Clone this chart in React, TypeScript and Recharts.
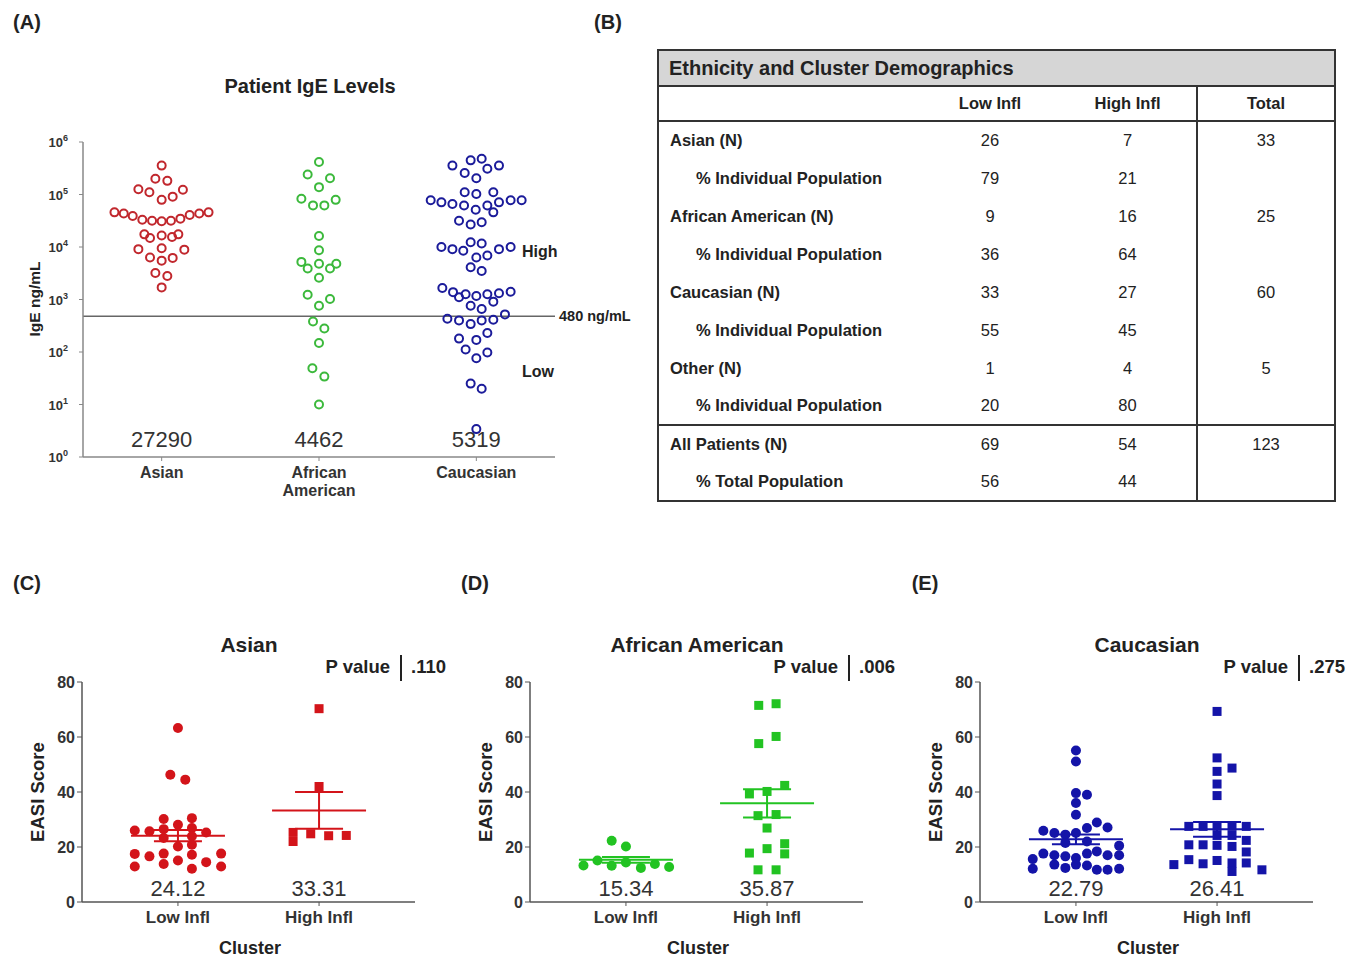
import { ScatterChart, Scatter, XAxis, YAxis, ReferenceLine, ErrorBar } from 'recharts'

const FONT = '"Liberation Sans", Arial, Helvetica, sans-serif'

// ---- Panel A: IgE levels (jitter in category units, value in ng/mL) ----
const groups = ['Asian', 'African American', 'Caucasian']
const igeTicks = [1, 10, 100, 1000, 10000, 100000, 1000000]
const igeCutoff = 480
const igeMedians = [27290, 4462, 5319]

const asianIgE: [number, number][] = [
  [0, 355000],
  [-0.04, 200000], [0.036, 182000],
  [-0.148, 126000], [-0.078, 110000], [0.135, 123000], [0.07, 91000], [0, 79000],
  [-0.3, 45700], [-0.241, 43600], [-0.184, 38900], [-0.123, 33100], [-0.061, 31600], [0, 30900],
  [0.059, 31600], [0.119, 34700], [0.178, 40700], [0.239, 43600], [0.298, 45700],
  [-0.11, 17400], [-0.074, 14800], [0, 16600], [0.066, 15500], [0.106, 17400],
  [-0.148, 9100], [0, 9500], [0.144, 8900],
  [-0.074, 6300], [0, 5500], [0.07, 6200],
  [-0.04, 3200], [0.036, 2800],
  [0, 1700],
]

const africanIgE: [number, number][] = [
  [0, 417000], [-0.072, 240000], [0.07, 204000], [0, 138000],
  [-0.112, 83000], [-0.038, 62000], [0.034, 62000], [0.106, 79000],
  [0, 16200], [0, 8700],
  [-0.112, 5200], [-0.072, 3900], [0, 4800], [0.07, 3900], [0.11, 4800], [0, 2600],
  [-0.072, 1230], [0, 760], [0.07, 1020],
  [-0.038, 380], [0.034, 280], [0, 148],
  [-0.042, 49], [0.034, 34], [0, 10],
]

const caucasianIgE: [number, number][] = [
  [-0.152, 355000], [-0.036, 447000], [0.034, 479000], [-0.074, 257000], [0, 204000], [0.07, 309000], [0.144, 355000],
  [-0.074, 110000], [0, 102000], [0.108, 110000],
  [-0.29, 77600], [-0.222, 70800], [-0.152, 66100], [-0.078, 61700], [-0.004, 51300], [0.07, 61700],
  [0.144, 70800], [0.218, 77600], [0.288, 77600],
  [0.108, 45700],
  [-0.11, 31600], [-0.036, 26900], [0.034, 29500],
  [-0.222, 10000], [-0.152, 9100], [-0.036, 12300], [0.034, 11700], [-0.083, 8500], [0, 6300], [0.07, 6900],
  [0.144, 9100], [0.218, 10000],
  [-0.036, 4100], [0.034, 3500],
  [-0.216, 1660], [-0.148, 1380], [-0.11, 1100], [-0.068, 1260], [0, 1170], [0.07, 1260], [0.108, 910],
  [0.144, 1320], [0.218, 1410],
  [-0.036, 760], [0.034, 660],
  [-0.184, 430], [-0.11, 400], [-0.036, 340], [0.034, 400], [0.108, 410], [0.182, 520],
  [0.07, 230], [-0.11, 180], [-0.068, 112], [0, 170], [0, 76], [0.07, 98],
  [-0.036, 25], [0.034, 20],
  [0, 3.4],
]

// ---- Panel B: table ----
const tableLabels = [
  'Asian (N)', '% Individual Population',
  'African American (N)', '% Individual Population',
  'Caucasian  (N)', '% Individual Population',
  'Other (N)', '% Individual Population',
  'All Patients (N)', '% Total Population',
]
const tableLow = ['26', '79', '9', '36', '33', '55', '1', '20', '69', '56']
const tableHigh = ['7', '21', '16', '64', '27', '45', '4', '80', '54', '44']
const tableTotal = ['33', '', '25', '', '60', '', '5', '', '123', '']

// ---- Panels C-E: EASI score by cluster ----
const clusters = ['Low Infl', 'High Infl']

const asianLow: [number, number][] = [
  [0, 63.3], [-0.054, 46.3], [0.052, 44.5], [-0.101, 30.2], [0.099, 30.5], [0, 28.1],
  [-0.306, 26.0], [-0.202, 25.7], [-0.101, 26.5], [0.099, 26.9], [0.2, 25.3],
  [-0.101, 23.3], [0.099, 23.9], [0, 20.2], [0.099, 20.8],
  [-0.306, 17.5], [-0.202, 16.6], [-0.101, 17.6], [0.099, 17.2], [0.306, 17.6],
  [-0.306, 12.9], [-0.101, 13.8], [0, 15.1], [0.2, 14.5], [0.306, 12.9], [0.099, 12.1],
]
const asianHigh: [number, number][] = [
  [0, 70.3], [0, 42.0], [-0.184, 25.3], [-0.059, 24.8], [0.068, 24.1], [0.193, 24.2], [-0.184, 22.0],
]
const africanLow: [number, number][] = [
  [-0.101, 22.3], [0, 20.2], [-0.202, 15.1], [-0.301, 13.3], [-0.101, 13.2],
  [0, 14.4], [0.106, 12.4], [0.205, 13.8], [0.306, 12.7],
]
const africanHigh: [number, number][] = [
  [-0.059, 71.5], [0.064, 72.1], [-0.059, 57.6], [0.064, 60.2], [0.125, 42.4], [-0.125, 39.3],
  [0, 40.2], [-0.064, 31.4], [0.064, 31.8], [0, 26.9], [-0.125, 17.8], [0, 19.4],
  [0.125, 21.2], [0.125, 17.5], [-0.064, 11.7], [0.064, 11.7],
]
const caucasianLow: [number, number][] = [
  [0, 55.1], [0, 51.1], [0, 39.6], [0.078, 39.0], [0, 36.0], [0, 31.7], [0.148, 28.9], [0.224, 27.1],
  [0.078, 26.9], [-0.231, 25.9], [-0.153, 25.1], [-0.075, 24.5], [0, 25.1], [-0.075, 21.5], [0.078, 22.0],
  [0.306, 20.5], [-0.306, 15.6], [-0.231, 17.6], [-0.153, 17.0], [-0.075, 16.6], [0, 16.0], [0.078, 17.6],
  [0.148, 18.4], [0.224, 17.0], [0.306, 17.0], [-0.306, 12.1], [-0.153, 13.6], [-0.075, 12.4], [0, 13.6],
  [0.078, 13.3], [0.148, 11.7], [0.224, 11.7], [0.306, 12.1],
]
const caucasianHigh: [number, number][] = [
  [0, 69.3], [0, 52.4], [0.106, 48.7], [0, 47.5], [0, 42.9], [0, 38.7],
  [-0.2, 27.5], [-0.099, 27.5], [0, 27.5], [0.106, 27.5], [0.207, 27.5],
  [0, 24.2], [0.106, 24.2], [0.207, 22.4], [-0.2, 20.8], [-0.099, 20.8], [0, 20.6], [0.106, 20.2],
  [0.207, 18.2], [-0.2, 15.4], [-0.099, 13.9], [0, 15.1], [0.106, 14.2], [0.207, 14.2],
  [-0.306, 13.6], [0.106, 11.1], [0.318, 11.7],
]
const asianMeans = [24.12, 33.31]
const asianSem = [2.05, 6.7]
const africanMeans = [15.34, 35.87]
const africanSem = [1.05, 5.1]
const caucasianMeans = [22.79, 26.41]
const caucasianSem = [1.8, 2.7]

const toPts = (pairs: [number, number][], cat: number) => pairs.map(([j, v]) => ({ x: cat + j, y: v }))

function Txt({ x, y, size = 14, bold = true, anchor = 'middle', rotate = 0, children }: any) {
  const tx = anchor === 'middle' ? '-50%' : anchor === 'end' ? '-100%' : '0'
  return (
    <div
      style={{
        position: 'absolute', left: x, top: y, whiteSpace: 'nowrap', fontSize: size,
        fontWeight: bold ? 700 : 400, lineHeight: 1,
        transform: `translate(${tx}, -50%) rotate(${rotate}deg)`,
      }}
    >
      {children}
    </div>
  )
}

const openCircle = (color: string) => (p: any) =>
  <circle cx={p.cx} cy={p.cy} r={4} fill="none" stroke={color} strokeWidth={2} />
const dot = (color: string) => (p: any) => <circle cx={p.cx} cy={p.cy} r={5} fill={color} />
const square = (color: string) => (p: any) => <rect x={p.cx - 4.5} y={p.cy - 4.5} width={9} height={9} fill={color} />

function GroupTick(props: any) {
  const { x, y, payload } = props
  const words = groups[payload.value - 1].split(' ')
  return (
    <text x={x} y={y + 15} textAnchor="middle" fontSize={16} fontWeight={700} fill="#333" fontFamily={FONT}>
      {words.map((w, i) => (
        <tspan key={i} x={x} dy={i === 0 ? 0 : 18}>{w}</tspan>
      ))}
    </text>
  )
}

function PowerTick(props: any) {
  const { x, y, payload } = props
  const exp = Math.round(Math.log10(payload.value))
  return (
    <text x={x - 9} y={y + 5} textAnchor="end" fontSize={13} fontWeight={700} fill="#333" fontFamily={FONT}>
      10<tspan dy={-6} fontSize={9}>{exp}</tspan>
    </text>
  )
}

function PanelA() {
  const colors = ['#c1272d', '#3cb93c', '#1b1b9a']
  const sets = [asianIgE, africanIgE, caucasianIgE]
  const medianPts = igeMedians.map((m, i) => ({ x: i + 1, y: m }))
  return (
    <div style={{ position: 'absolute', left: 0, top: 130 }}>
      <ScatterChart width={640} height={377} margin={{ top: 12, right: 85, bottom: 0, left: 30 }}>
        <XAxis type="number" dataKey="x" domain={[0.5, 3.5]} ticks={[1, 2, 3]} tick={<GroupTick />}
          axisLine={{ stroke: '#888', strokeWidth: 1.5 }} tickLine={{ stroke: '#888' }} tickSize={4} height={50} interval={0} />
        <YAxis type="number" dataKey="y" scale="log" domain={[1, 1000000]} ticks={igeTicks} tick={<PowerTick />}
          axisLine={{ stroke: '#888', strokeWidth: 1.5 }} tickLine={{ stroke: '#888' }} tickSize={4} width={53} interval={0} />
        <ReferenceLine y={igeCutoff} stroke="#666" strokeWidth={1.3} />
        {sets.map((s, i) => (
          <Scatter key={i} data={toPts(s, i + 1)} shape={openCircle(colors[i])} isAnimationActive={false} />
        ))}
        <Scatter data={medianPts} isAnimationActive={false}
          shape={(p: any) => (
            <text x={p.cx} y={317} textAnchor="middle" fontSize={22} fill="#333" fontFamily={FONT}>
              {String(p.payload.y)}
            </text>
          )} />
      </ScatterChart>
    </div>
  )
}

function ClusterTick(props: any) {
  const { x, y, payload } = props
  return (
    <text x={x} y={y + 15} textAnchor="middle" fontSize={17} fontWeight={700} fill="#333" fontFamily={FONT}>
      {clusters[payload.value - 1]}
    </text>
  )
}

function EasiPanel({ left, letter, title, p, low, high, means, sem, color }: any) {
  const meanPts = means.map((m: number, i: number) => ({ x: i + 1, y: m, sem: sem[i] }))
  return (
    <>
      <Txt x={left + 27} y={583} size={20}>{letter}</Txt>
      <Txt x={left + 249} y={644} size={21}>{title}</Txt>
      <Txt x={left + 390} y={667} size={18.5} anchor="end">P value</Txt>
      <div style={{ position: 'absolute', left: left + 400, top: 655, width: 2, height: 26, background: '#222' }} />
      <Txt x={left + 411} y={667} size={18.5} anchor="start">{p}</Txt>
      <Txt x={left + 38} y={792} size={18.5} rotate={-90}>EASI Score</Txt>
      <Txt x={left + 250} y={948} size={18}>Cluster</Txt>
      <div style={{ position: 'absolute', left, top: 670 }}>
        <ScatterChart width={440} height={262} margin={{ top: 12, right: 25, bottom: 0, left: 40 }}>
          <XAxis type="number" dataKey="x" domain={[0.32, 2.68]} ticks={[1, 2]} tick={<ClusterTick />}
            axisLine={{ stroke: '#555', strokeWidth: 1.5 }} tickLine={{ stroke: '#555' }} tickSize={4} height={30} interval={0} />
          <YAxis type="number" dataKey="y" domain={[0, 80]} ticks={[0, 20, 40, 60, 80]}
            tick={{ fontSize: 16, fontWeight: 700, fill: '#333', fontFamily: FONT }}
            axisLine={{ stroke: '#555', strokeWidth: 1.5 }} tickLine={{ stroke: '#555' }} tickSize={5} width={42} interval={0} />
          <Scatter data={toPts(low, 1)} shape={dot(color)} isAnimationActive={false} />
          <Scatter data={toPts(high, 2)} shape={square(color)} isAnimationActive={false} />
          <Scatter data={meanPts} isAnimationActive={false}
            shape={(q: any) => (
              <g>
                <line x1={q.cx - 47} x2={q.cx + 47} y1={q.cy} y2={q.cy} stroke={color} strokeWidth={2} />
                <text x={q.cx} y={226} textAnchor="middle" fontSize={22} fill="#333" fontFamily={FONT}>
                  {q.payload.y.toFixed(2)}
                </text>
              </g>
            )}>
            <ErrorBar dataKey="sem" direction="y" width={24} stroke={color} strokeWidth={2} />
          </Scatter>
        </ScatterChart>
      </div>
    </>
  )
}

function DemoTable() {
  const border = '2px solid #333'
  const cell = { textAlign: 'center' as const, fontWeight: 400 }
  return (
    <table
      style={{
        position: 'absolute', left: 657, top: 49, width: 677, borderCollapse: 'collapse', tableLayout: 'fixed',
        border, fontSize: 16.5, color: '#222',
      }}
    >
      <colgroup>
        <col style={{ width: 263 }} /><col style={{ width: 138 }} /><col style={{ width: 138 }} /><col style={{ width: 138 }} />
      </colgroup>
      <tbody>
        <tr style={{ height: 36, background: '#d6d6d6' }}>
          <td colSpan={4} style={{ borderBottom: border, fontSize: 20, fontWeight: 700, padding: '0 0 0 10px' }}>
            Ethnicity and Cluster Demographics
          </td>
        </tr>
        <tr style={{ height: 35, fontWeight: 700 }}>
          <td style={{ borderBottom: border }} />
          <td style={{ borderBottom: border, textAlign: 'center' }}>{clusters[0]}</td>
          <td style={{ borderBottom: border, textAlign: 'center' }}>{clusters[1]}</td>
          <td style={{ borderBottom: border, borderLeft: border, textAlign: 'center' }}>Total</td>
        </tr>
        {tableLabels.map((lab, i) => {
          const top = i === 8 ? border : undefined
          return (
            <tr key={i} style={{ height: 38 }}>
              <td style={{ borderTop: top, padding: `0 0 0 ${i % 2 ? 37 : 11}px`, fontWeight: 700 }}>{lab}</td>
              <td style={{ ...cell, padding: 0, borderTop: top }}>{tableLow[i]}</td>
              <td style={{ ...cell, padding: 0, borderTop: top }}>{tableHigh[i]}</td>
              <td style={{ ...cell, padding: 0, borderTop: top, borderLeft: border }}>{tableTotal[i]}</td>
            </tr>
          )
        })}
      </tbody>
    </table>
  )
}

export default function App() {
  return (
    <div style={{ position: 'absolute', left: 0, top: 0, width: 1348, height: 957, background: '#fff', fontFamily: FONT, color: '#222' }}>
      <Txt x={27} y={22} size={20}>(A)</Txt>
      <Txt x={608} y={22} size={20}>(B)</Txt>
      <Txt x={310} y={86} size={20}>Patient IgE Levels</Txt>
      <Txt x={35} y={299} size={15.5} rotate={-90}>IgE ng/mL</Txt>
      <Txt x={522} y={252} size={16} anchor="start">High</Txt>
      <Txt x={522} y={372} size={16} anchor="start">Low</Txt>
      <Txt x={559} y={316} size={14.5} anchor="start">{igeCutoff} ng/mL</Txt>
      <PanelA />
      <DemoTable />
      <EasiPanel left={0} letter="(C)" title="Asian" p=".110" low={asianLow} high={asianHigh}
        means={asianMeans} sem={asianSem} color="#d3141a" />
      <EasiPanel left={448} letter="(D)" title="African American" p=".006" low={africanLow} high={africanHigh}
        means={africanMeans} sem={africanSem} color="#22c322" />
      <EasiPanel left={898} letter="(E)" title="Caucasian" p=".275" low={caucasianLow} high={caucasianHigh}
        means={caucasianMeans} sem={caucasianSem} color="#1414a8" />
    </div>
  )
}
